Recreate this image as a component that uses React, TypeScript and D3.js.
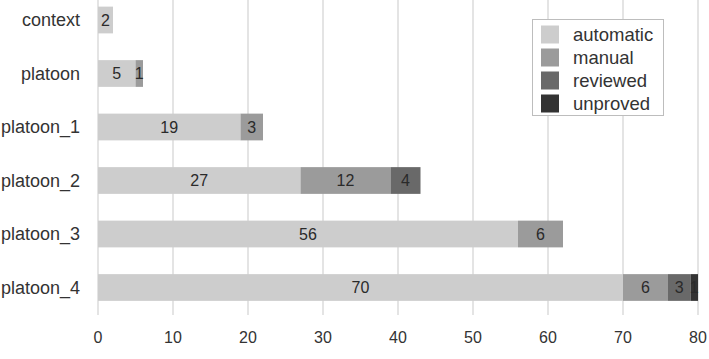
import React from "react";
import * as d3 from "d3";

const categories = ["context", "platoon", "platoon_1", "platoon_2", "platoon_3", "platoon_4"];
const seriesNames = ["automatic", "manual", "reviewed", "unproved"];
const automatic = [2, 5, 19, 27, 56, 70];
const manual = [0, 1, 3, 12, 6, 6];
const reviewed = [0, 0, 0, 4, 0, 3];
const unproved = [0, 0, 0, 0, 0, 1];
const xTicks = [0, 10, 20, 30, 40, 50, 60, 70, 80];
const colors = ["#cdcdcd", "#9b9b9b", "#696969", "#333333"];

const W = 709;
const H = 359;
const FONT = "'Liberation Sans', Arial, Helvetica, sans-serif";

export default function App() {
  const x = d3.scaleLinear().domain([0, 80]).range([98, 698]);
  const y = d3
    .scaleBand<string>()
    .domain(categories)
    .range([-6.75, 314.25])
    .paddingInner(0.5)
    .paddingOuter(0.25);

  const rows = categories.map((c, i) => ({
    category: c,
    automatic: automatic[i],
    manual: manual[i],
    reviewed: reviewed[i],
    unproved: unproved[i],
  }));
  const stacked = d3.stack<any>().keys(seriesNames)(rows);

  return (
    <svg
      width={W}
      height={H}
      style={{ position: "absolute", left: 0, top: 0, background: "#fff" }}
      fontFamily={FONT}
    >
      <rect x={0} y={0} width={W} height={H} fill="#fff" />
      {xTicks.map((t) => (
        <line key={t} x1={x(t)} x2={x(t)} y1={0} y2={315} stroke="#dedede" strokeWidth={1.6} />
      ))}
      {xTicks.map((t) => (
        <text key={"t" + t} x={x(t)} y={343} textAnchor="middle" fontSize={16} fill="#333">
          {t}
        </text>
      ))}
      {categories.map((c) => (
        <text
          key={c}
          x={80}
          y={(y(c) as number) + y.bandwidth() / 2}
          dy="0.35em"
          textAnchor="end"
          fontSize={18}
          fill="#333"
        >
          {c}
        </text>
      ))}
      {stacked.map((s, si) =>
        s.map((d, i) => {
          const v = d[1] - d[0];
          if (v <= 0) return null;
          const cat = categories[i];
          const x0 = x(d[0]);
          const x1 = x(d[1]);
          return (
            <g key={si + "-" + i}>
              <rect x={x0} y={y(cat)} width={x1 - x0} height={y.bandwidth()} fill={colors[si]} />
              <text
                x={(x0 + x1) / 2}
                y={(y(cat) as number) + y.bandwidth() / 2}
                dy="0.35em"
                textAnchor="middle"
                fontSize={16}
                fill="#2a2a2a"
              >
                {v}
              </text>
            </g>
          );
        })
      )}
      <g>
        <rect x={532.5} y={19.5} width={131} height={96} fill="#fff" stroke="#bdbdbd" strokeWidth={1} />
        {seriesNames.map((n, i) => (
          <g key={n}>
            <rect x={541} y={25.5 + i * 23} width={18} height={18} fill={colors[i]} />
            <text x={573} y={34.5 + i * 23} dy="0.35em" fontSize={18.5} fill="#333">
              {n}
            </text>
          </g>
        ))}
      </g>
    </svg>
  );
}
